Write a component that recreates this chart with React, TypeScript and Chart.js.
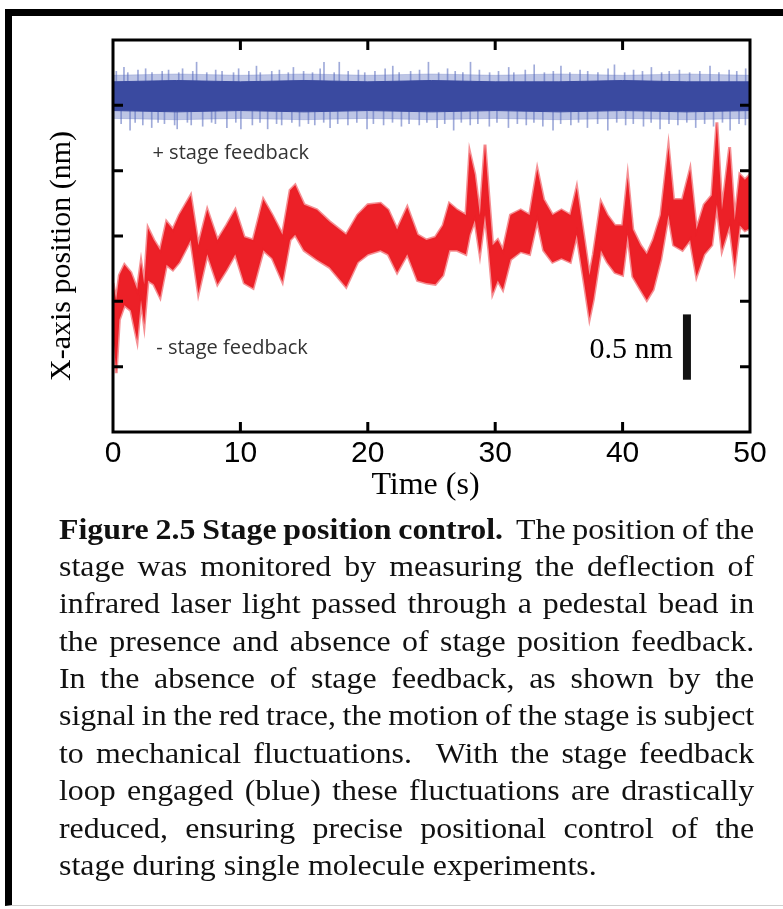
import React, { useEffect, useRef } from "react";
import { Chart, registerables } from "chart.js";

Chart.register(...registerables);

// ---- data ----
const xTicks = [0, 10, 20, 30, 40, 50];
const yTicks = [0, 0.5, 1, 1.5, 2, 2.5, 3];

// red trace (- stage feedback): envelope of the noisy band
const redTime = [
  0.0, 0.25, 0.5, 0.9, 1.4, 1.9, 2.2, 2.45, 2.75, 3.2, 3.7, 4.2, 4.7, 5.2, 6.1, 6.7, 7.4, 8.2, 8.9, 9.6,
  10.3, 11.0, 11.8, 12.5, 13.3, 13.9, 14.3, 15.0, 16.0, 17.0, 18.3, 19.2, 20.0, 21.0, 21.6, 22.3, 23.1,
  23.9, 24.6, 25.3, 25.9, 26.4, 27.0, 27.7, 28.0, 28.4, 28.8, 29.2, 29.5, 29.8, 30.2, 30.6, 31.2, 32.0,
  32.7, 33.3, 33.8, 34.5, 35.2, 35.9, 36.4, 37.0, 37.4, 37.7, 38.3, 38.8, 39.4, 40.0, 40.4, 40.8, 41.4,
  41.9, 42.4, 43.0, 43.6, 44.0, 44.7, 45.3, 45.8, 46.4, 47.0, 47.4, 47.8, 48.4, 48.8, 49.2, 49.6, 50.0,
];
const redHigh = [
  1.14, 1.01, 1.2, 1.28, 1.22, 1.09, 1.3, 1.13, 1.56, 1.47, 1.39, 1.61, 1.55, 1.66, 1.81, 1.43, 1.7, 1.47, 1.58, 1.7,
  1.49, 1.47, 1.78, 1.66, 1.51, 1.85, 1.89, 1.74, 1.7, 1.61, 1.51, 1.66, 1.74, 1.75, 1.7, 1.55, 1.72,
  1.51, 1.47, 1.49, 1.58, 1.75, 1.7, 1.66, 2.14, 1.97, 1.66, 2.2, 1.81, 1.43, 1.47, 1.39, 1.66, 1.7,
  1.66, 2.01, 1.78, 1.66, 1.7, 1.66, 1.87, 1.47, 1.2, 1.36, 1.76, 1.66, 1.58, 1.58, 1.95, 1.55, 1.43,
  1.36, 1.47, 1.66, 2.18, 1.78, 1.78, 2.01, 1.55, 1.74, 1.81, 2.37, 1.7, 2.18, 1.62, 1.97, 1.93, 1.97,
];
const redLow = [
  0.78, 0.45, 0.86, 0.97, 0.93, 0.7, 1.01, 0.82, 1.16, 1.13, 1.03, 1.28, 1.24, 1.3, 1.47, 1.06, 1.36, 1.13, 1.24, 1.36,
  1.14, 1.1, 1.39, 1.33, 1.15, 1.47, 1.51, 1.39, 1.32, 1.26, 1.11, 1.3, 1.36, 1.39, 1.36, 1.22, 1.36,
  1.16, 1.14, 1.13, 1.2, 1.39, 1.39, 1.36, 1.51, 1.62, 1.36, 1.66, 1.39, 1.06, 1.16, 1.09, 1.32, 1.38,
  1.36, 1.62, 1.39, 1.3, 1.33, 1.3, 1.51, 1.13, 0.87, 1.01, 1.39, 1.3, 1.22, 1.2, 1.51, 1.19, 1.09,
  1.01, 1.09, 1.32, 1.66, 1.43, 1.39, 1.47, 1.19, 1.36, 1.43, 1.74, 1.39, 1.58, 1.26, 1.58, 1.54, 1.56,
];

// blue trace (+ stage feedback): dense core, sparse fuzz and single spikes
const blueTime = [0, 5, 10, 15, 20, 25, 30, 35, 40, 45, 50];
const blueCoreHigh = [2.68, 2.69, 2.68, 2.69, 2.68, 2.69, 2.68, 2.68, 2.69, 2.68, 2.68];
const blueCoreLow = [2.46, 2.45, 2.46, 2.45, 2.46, 2.45, 2.46, 2.45, 2.46, 2.45, 2.46];
const blueFuzzHigh = [2.73, 2.74, 2.73, 2.74, 2.73, 2.74, 2.73, 2.74, 2.73, 2.74, 2.73];
const blueFuzzLow = [2.4, 2.39, 2.4, 2.39, 2.4, 2.39, 2.4, 2.39, 2.4, 2.39, 2.4];
const blueUpTime = [
  0.3, 0.9, 1.2, 2.0, 2.6, 3.1, 3.9, 4.4, 5.2, 5.5, 6.3, 6.6, 7.4, 8.1, 8.6, 9.5, 9.9, 10.7, 11.3, 11.6,
  12.5, 13.1, 13.8, 14.2, 15.0, 15.7, 16.3, 16.6, 17.4, 17.8, 18.5, 19.3, 19.8, 20.6, 21.4, 22.0, 22.5,
  23.4, 24.1, 24.8, 25.6, 26.3, 26.9, 27.5, 28.1, 28.8, 29.6, 30.3, 31.1, 31.5, 32.4, 33.1, 33.9, 34.6,
  35.2, 35.9, 36.7, 37.3, 38.1, 38.9, 39.4, 40.2, 40.9, 41.6, 42.3, 43.1, 43.7, 44.5, 45.3, 46.1, 46.9,
  47.6, 48.4, 49.0, 49.7,
];
const blueUpTop = [
  2.76, 2.79, 2.75, 2.77, 2.78, 2.75, 2.76, 2.77, 2.75, 2.78, 2.76, 2.83, 2.75, 2.77, 2.76, 2.75, 2.78, 2.76, 2.8, 2.75,
  2.76, 2.77, 2.75, 2.79, 2.76, 2.75, 2.78, 2.83, 2.75, 2.83, 2.76, 2.77, 2.75, 2.76, 2.78, 2.8, 2.75,
  2.76, 2.77, 2.83, 2.75, 2.78, 2.76, 2.75, 2.83, 2.77, 2.75, 2.76, 2.79, 2.75, 2.77, 2.81, 2.75, 2.76,
  2.8, 2.75, 2.77, 2.76, 2.75, 2.78, 2.81, 2.75, 2.77, 2.76, 2.79, 2.75, 2.76, 2.77, 2.75, 2.76, 2.8,
  2.75, 2.77, 2.76, 2.78,
];
const blueDownTime = [
  0.6, 1.3, 1.7, 2.3, 3.0, 3.5, 4.0, 4.8, 5.0, 5.8, 6.1, 7.0, 7.7, 8.0, 8.9, 9.6, 10.0, 10.9, 11.5, 12.1,
  12.8, 13.2, 14.0, 14.6, 15.3, 15.8, 16.5, 17.0, 17.6, 18.4, 19.1, 19.9, 20.4, 21.2, 21.9, 22.6, 23.2,
  24.0, 24.6, 25.4, 26.0, 26.7, 27.3, 28.0, 28.6, 29.5, 30.1, 31.0, 31.7, 32.4, 33.0, 33.7, 34.5, 35.1,
  35.9, 36.5, 37.2, 38.0, 38.8, 39.5, 40.2, 40.8, 41.6, 42.2, 42.9, 43.6, 44.3, 45.0, 45.7, 46.4, 47.1,
  47.8, 48.4, 49.1, 49.6,
];
const blueDownBottom = [
  2.36, 2.31, 2.37, 2.35, 2.33, 2.37, 2.36, 2.35, 2.32, 2.37, 2.35, 2.34, 2.37, 2.36, 2.33, 2.37, 2.32, 2.35, 2.37, 2.32,
  2.36, 2.35, 2.37, 2.34, 2.36, 2.35, 2.37, 2.33, 2.36, 2.35, 2.37, 2.32, 2.36, 2.35, 2.37, 2.34, 2.36,
  2.35, 2.37, 2.33, 2.36, 2.31, 2.37, 2.35, 2.36, 2.34, 2.37, 2.33, 2.36, 2.35, 2.37, 2.34, 2.31, 2.36,
  2.35, 2.37, 2.33, 2.36, 2.31, 2.37, 2.35, 2.36, 2.34, 2.37, 2.32, 2.36, 2.35, 2.37, 2.33, 2.36, 2.34,
  2.37, 2.31, 2.36, 2.35,
];

// scale bar (0.5 nm)
const scaleBarTime = [45.05, 45.05];
const scaleBarValue = [0.4, 0.9];

const yTitle = "X-axis position (nm)";
const xTitle = "Time (s)";
const scaleBarLabel = "0.5 nm";
const plusLabel = "+ stage feedback";
const minusLabel = "- stage feedback";

const captionLines = [
  "stage was monitored by measuring the deflection of",
  "infrared laser light passed through a pedestal bead in",
  "the presence and absence of stage position feedback.",
  "In the absence of stage feedback, as shown by the",
  "signal in the red trace, the motion of the stage is subject",
  "to mechanical fluctuations.\u00a0 With the stage feedback",
  "loop engaged (blue) these fluctuations are drastically",
  "reduced, ensuring precise positional control of the",
];
const captionLast = "stage during single molecule experiments.";

const RED = "#ec2027";
const BLUE = "#3a4aa0";

function pts(xs: number[], ys: number[]) {
  return xs.map((x, i) => ({ x, y: ys[i] }));
}

const framePlugin = {
  id: "framePlugin",
  afterDatasetsDraw(chart: any) {
    const { ctx, chartArea: a, scales } = chart;
    const xs = scales.x;
    const ys = scales.y;
    ctx.save();
    ctx.strokeStyle = "#000";
    ctx.lineWidth = 3;
    ctx.strokeRect(a.left, a.top, a.right - a.left, a.bottom - a.top);
    const L = 10;
    ctx.beginPath();
    xTicks.forEach((t) => {
      if (t === xs.min || t === xs.max) return;
      const px = xs.getPixelForValue(t);
      ctx.moveTo(px, a.bottom);
      ctx.lineTo(px, a.bottom - L);
      ctx.moveTo(px, a.top);
      ctx.lineTo(px, a.top + L);
    });
    yTicks.forEach((v) => {
      if (v === ys.min || v === ys.max) return;
      const py = ys.getPixelForValue(v);
      ctx.moveTo(a.left, py);
      ctx.lineTo(a.left + L, py);
      ctx.moveTo(a.right, py);
      ctx.lineTo(a.right - L, py);
    });
    ctx.stroke();

    ctx.fillStyle = "#000";
    ctx.font = '30px "Liberation Sans", Arial, sans-serif';
    ctx.textAlign = "center";
    ctx.textBaseline = "alphabetic";
    xTicks.forEach((t) => {
      ctx.fillText(String(t), xs.getPixelForValue(t), a.bottom + 30);
    });

    ctx.font = '32px "Liberation Serif", "Times New Roman", serif';
    ctx.fillText(xTitle, (a.left + a.right) / 2 - 6, a.bottom + 62);

    ctx.save();
    ctx.font = '30px "Liberation Serif", "Times New Roman", serif';
    ctx.translate(a.left - 43, a.top + 216);
    ctx.rotate(-Math.PI / 2);
    ctx.textAlign = "center";
    ctx.fillText(yTitle, 0, 0);
    ctx.restore();

    ctx.fillStyle = "#333";
    ctx.font = '20px "Open Sans", "Noto Sans", sans-serif';
    ctx.textAlign = "left";
    ctx.fillText(plusLabel, xs.getPixelForValue(3.1), ys.getPixelForValue(2.09));
    ctx.fillText(minusLabel, xs.getPixelForValue(3.4), ys.getPixelForValue(0.6));

    ctx.fillStyle = "#000";
    ctx.font = '30px "Liberation Serif", "Times New Roman", serif';
    ctx.textAlign = "right";
    ctx.fillText(scaleBarLabel, xs.getPixelForValue(43.95), ys.getPixelForValue(0.57));
    ctx.restore();
  },
};

function TraceChart() {
  const ref = useRef<HTMLCanvasElement | null>(null);
  useEffect(() => {
    if (!ref.current) return;
    const line = { type: "line", pointRadius: 0, tension: 0 };
    const chart = new Chart(ref.current, {
      type: "line",
      data: {
        datasets: [
          {
            type: "bar",
            data: blueUpTime.map((t, i) => ({ x: t, y: [2.6, blueUpTop[i]] })),
            backgroundColor: "rgba(80,100,185,0.55)",
            barThickness: 1,
            order: 5,
          },
          {
            type: "bar",
            data: blueDownTime.map((t, i) => ({ x: t, y: [blueDownBottom[i], 2.5] })),
            backgroundColor: "rgba(80,100,185,0.55)",
            barThickness: 1,
            order: 5,
          },
          {
            ...line,
            data: pts(blueTime, blueFuzzHigh),
            borderColor: "rgba(80,100,185,0.25)",
            borderWidth: 1,
            fill: false,
            order: 4,
          },
          {
            ...line,
            data: pts(blueTime, blueFuzzLow),
            borderColor: "rgba(80,100,185,0.25)",
            borderWidth: 1,
            backgroundColor: "rgba(90,110,190,0.4)",
            fill: "-1",
            order: 4,
          },
          {
            ...line,
            data: pts(blueTime, blueCoreHigh),
            borderColor: BLUE,
            borderWidth: 1,
            fill: false,
            order: 3,
          },
          {
            ...line,
            data: pts(blueTime, blueCoreLow),
            borderColor: BLUE,
            borderWidth: 1,
            backgroundColor: BLUE,
            fill: "-1",
            order: 3,
          },
          {
            ...line,
            data: pts(redTime, redHigh),
            borderColor: "rgba(236,32,39,0.5)",
            borderWidth: 3,
            fill: false,
            order: 2,
          },
          {
            ...line,
            data: pts(redTime, redLow),
            borderColor: "rgba(236,32,39,0.5)",
            borderWidth: 3,
            backgroundColor: RED,
            fill: "-1",
            order: 2,
          },
          {
            ...line,
            data: pts(scaleBarTime, scaleBarValue),
            borderColor: "#111",
            borderWidth: 8,
            borderCapStyle: "butt",
            fill: false,
            order: 1,
          },
        ],
      },
      options: {
        responsive: false,
        animation: false,
        events: [],
        layout: { padding: { left: 113, top: 40, right: 33, bottom: 88 } },
        plugins: { legend: { display: false }, tooltip: { enabled: false } },
        scales: {
          x: { type: "linear", min: 0, max: 50, display: false, offset: false },
          y: { type: "linear", min: 0, max: 3, display: false },
        },
      },
      plugins: [framePlugin],
    } as any);
    return () => chart.destroy();
  }, []);
  return <canvas ref={ref} width={783} height={520} style={{ position: "absolute", left: 0, top: 0 }} />;
}

export default function App() {
  const serif = '"Liberation Serif", "Times New Roman", serif';
  const lineStyle: React.CSSProperties = {
    width: 632,
    transform: "scaleX(1.1)",
    transformOrigin: "left",
    textAlign: "justify",
    textAlignLast: "justify",
    wordSpacing: "-3px",
    height: 37.4,
  };
  return (
    <div style={{ position: "absolute", left: 0, top: 0, width: 783, height: 909, overflow: "hidden", background: "#fff" }}>
      <div
        style={{
          position: "absolute",
          left: 5,
          top: 9,
          width: 778,
          height: 897,
          boxSizing: "border-box",
          borderTop: "7px solid #000",
          borderLeft: "7px solid #000",
          borderBottom: "1px solid #cfcfcf",
        }}
      />
      <TraceChart />
      <div
        style={{
          position: "absolute",
          left: 59,
          top: 510.5,
          width: 700,
          fontFamily: serif,
          fontSize: 29,
          lineHeight: "37.4px",
          color: "#111",
        }}
      >
        <div style={lineStyle}>
          <b>Figure 2.5 Stage position control.</b>
          {"\u00a0 The position of the"}
        </div>
        {captionLines.map((l, i) => (
          <div key={i} style={lineStyle}>
            {l}
          </div>
        ))}
        <div style={{ transform: "scaleX(1.1)", transformOrigin: "left", whiteSpace: "nowrap", height: 37.4 }}>
          {captionLast}
        </div>
      </div>
    </div>
  );
}
